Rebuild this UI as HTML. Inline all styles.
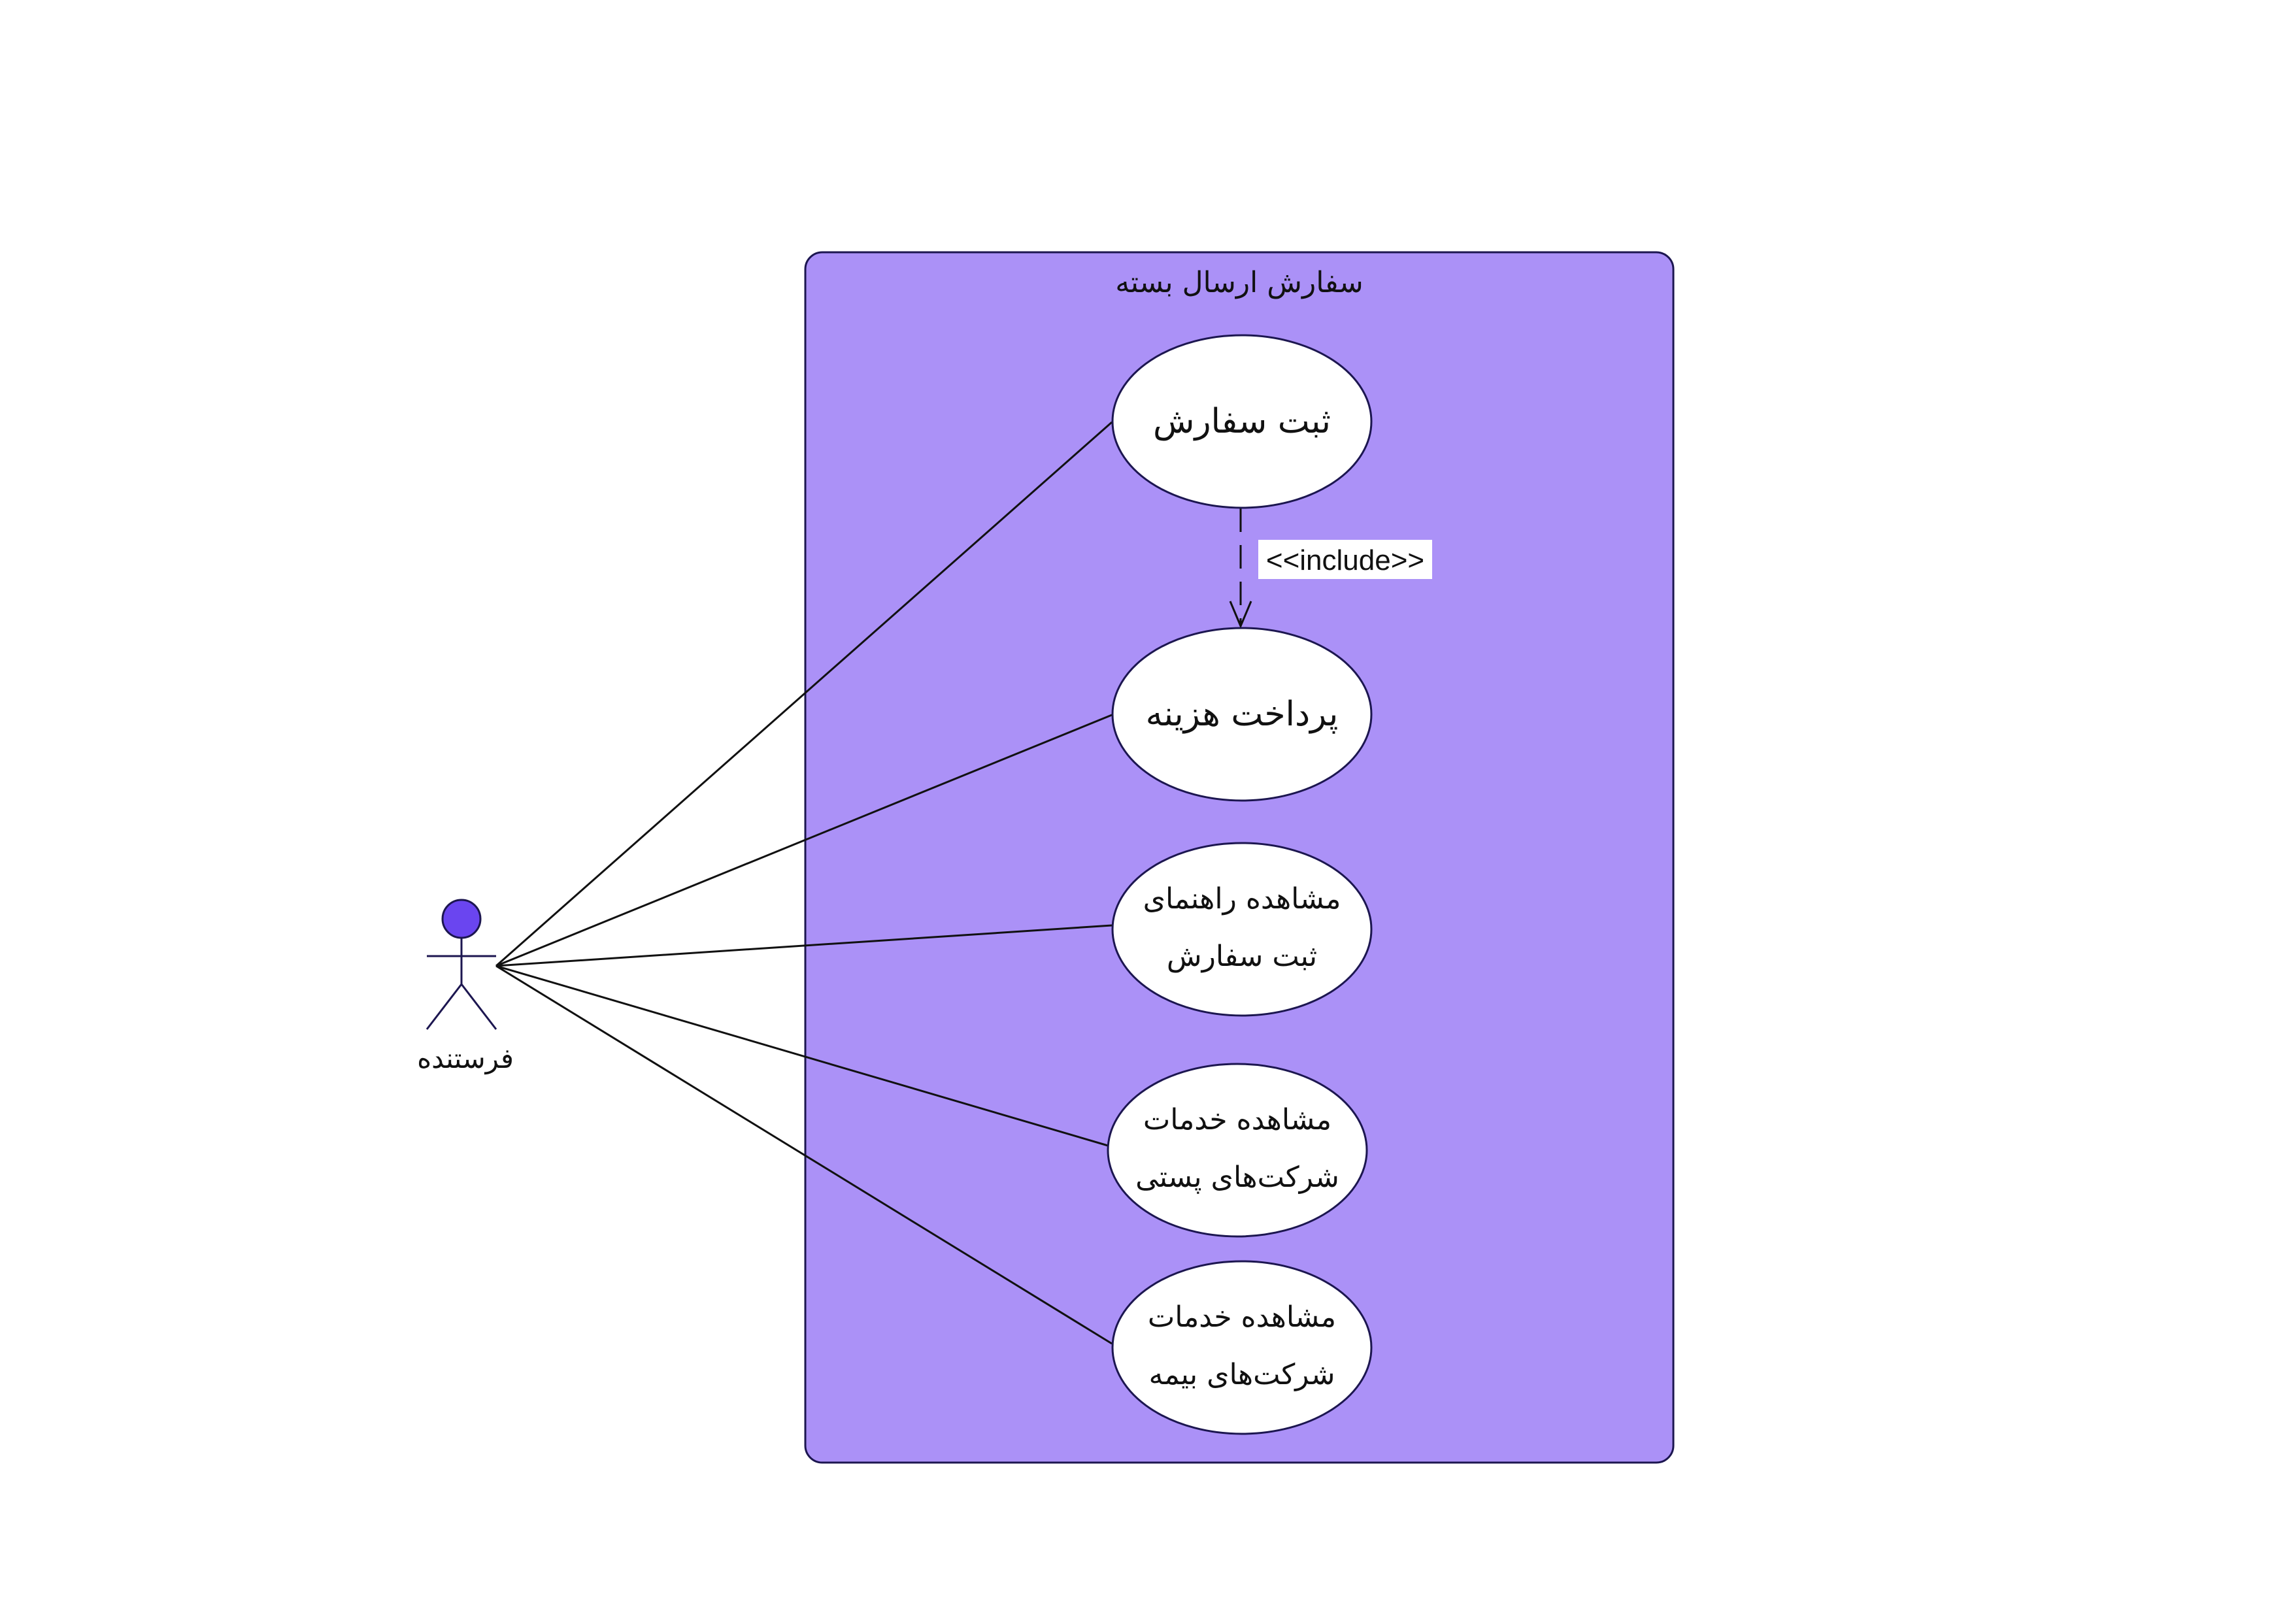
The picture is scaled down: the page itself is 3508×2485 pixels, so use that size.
<!DOCTYPE html>
<html><head><meta charset="utf-8"><style>html,body{margin:0;padding:0;background:#fff}</style></head>
<body>
<svg width="3508" height="2480" viewBox="0 0 3508 2480" xmlns="http://www.w3.org/2000/svg" font-family="'DejaVu Sans','Noto Sans CJK SC',sans-serif">
<rect x="0" y="0" width="3508" height="2480" fill="#fff"/>
<rect x="1232" y="386" width="1328" height="1852" rx="26" ry="26" fill="#ab91f7" stroke="#1c1650" stroke-width="3"/>
<text x="1896" y="447" font-size="44" text-anchor="middle" fill="#111" direction="rtl">سفارش ارسال بسته</text>
<g stroke="#111" stroke-width="3" fill="none">
<line x1="759" y1="1478" x2="1701" y2="646"/>
<line x1="759" y1="1478" x2="1701" y2="1094"/>
<line x1="759" y1="1478" x2="1701" y2="1416"/>
<line x1="759" y1="1478" x2="1695" y2="1753"/>
<line x1="759" y1="1478" x2="1701" y2="2056"/>
<line x1="1898" y1="778" x2="1898" y2="958" stroke-dasharray="36,20"/>
<polyline points="1882,920 1898,958 1914,920"/>
</g>
<rect x="1925" y="826" width="266" height="60" fill="#fff"/>
<text x="2058" y="872" font-size="44" text-anchor="middle" font-family="'Liberation Sans',sans-serif" fill="#111">&lt;&lt;include&gt;&gt;</text>
<g fill="#fff" stroke="#1c1650" stroke-width="3">
<ellipse cx="1900" cy="645" rx="198" ry="132"/>
<ellipse cx="1900" cy="1093" rx="198" ry="132"/>
<ellipse cx="1900" cy="1422" rx="198" ry="132"/>
<ellipse cx="1893" cy="1760" rx="198" ry="132"/>
<ellipse cx="1900" cy="2062" rx="198" ry="132"/>
</g>
<g fill="#111" text-anchor="middle" direction="rtl">
<text x="1900" y="662" font-size="52">ثبت سفارش</text>
<text x="1900" y="1110" font-size="52">پرداخت هزینه</text>
<text x="1900" y="1390" font-size="44">مشاهده راهنمای</text>
<text x="1900" y="1478" font-size="44">ثبت سفارش</text>
<text x="1893" y="1728" font-size="44">مشاهده خدمات</text>
<text x="1893" y="1816" font-size="44">شرکت‌های پستی</text>
<text x="1900" y="2030" font-size="44">مشاهده خدمات</text>
<text x="1900" y="2118" font-size="44">شرکت‌های بیمه</text>
<text x="712" y="1634" font-size="42">فرستنده</text>
</g>
<ellipse cx="706" cy="1406" rx="29" ry="29" fill="#6a45f0" stroke="#1c1650" stroke-width="3"/>
<g stroke="#1c1650" stroke-width="3">
<line x1="706" y1="1435" x2="706" y2="1506"/>
<line x1="653" y1="1463" x2="759" y2="1463"/>
<line x1="706" y1="1506" x2="653" y2="1575"/>
<line x1="706" y1="1506" x2="759" y2="1575"/>
</g>
</svg>
</body></html>
